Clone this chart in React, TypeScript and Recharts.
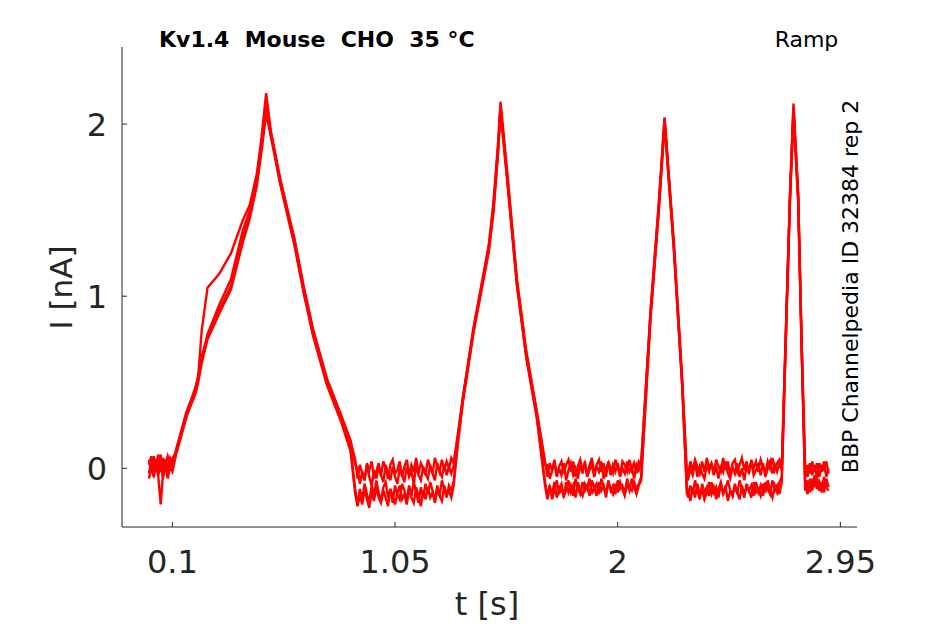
import { LineChart, Line, XAxis, YAxis } from 'recharts';

// time base shared by every repetition (s)
const time = [
  0, 0.01, 0.02, 0.03, 0.04, 0.05, 0.06, 0.07, 0.08, 0.09, 0.1,
  0.12, 0.16, 0.2, 0.21, 0.225, 0.25, 0.3, 0.35, 0.4, 0.43, 0.46, 0.48, 0.5,
  0.52, 0.56, 0.62, 0.66, 0.7, 0.76, 0.82, 0.86, 0.88,
  0.89, 0.9, 0.91, 0.92, 0.93, 0.94, 0.95, 0.96, 0.97, 0.98,
  0.99, 1, 1.01, 1.02, 1.03, 1.04, 1.05, 1.06, 1.07, 1.08,
  1.09, 1.1, 1.11, 1.12, 1.13, 1.14, 1.15, 1.16, 1.17, 1.18,
  1.19, 1.2, 1.21, 1.22, 1.23, 1.24, 1.25, 1.26, 1.27, 1.28,
  1.29, 1.3,
  1.32, 1.34, 1.385, 1.45, 1.47, 1.49, 1.5,
  1.53, 1.57, 1.61, 1.655, 1.69,
  1.7, 1.71, 1.72, 1.73, 1.74, 1.75, 1.76, 1.77, 1.78, 1.79,
  1.8, 1.81, 1.82, 1.83, 1.84, 1.85, 1.86, 1.87, 1.88, 1.89,
  1.9, 1.91, 1.92, 1.93, 1.94, 1.95, 1.96, 1.97, 1.98, 1.99,
  2, 2.01, 2.02, 2.03, 2.04, 2.05, 2.06, 2.07, 2.08, 2.09,
  2.1,
  2.14, 2.175, 2.2, 2.24, 2.275, 2.295,
  2.3, 2.31, 2.32, 2.33, 2.34, 2.35, 2.36, 2.37, 2.38, 2.39,
  2.4, 2.41, 2.42, 2.43, 2.44, 2.45, 2.46, 2.47, 2.48, 2.49,
  2.5, 2.51, 2.52, 2.53, 2.54, 2.55, 2.56, 2.57, 2.58, 2.59,
  2.6, 2.61, 2.62, 2.63, 2.64, 2.65, 2.66, 2.67, 2.68, 2.69,
  2.7,
  2.72, 2.735, 2.75, 2.77, 2.785,
  2.8, 2.81, 2.82, 2.83, 2.84, 2.85, 2.86, 2.87, 2.88, 2.89, 2.9,
];

// current (nA) of each repetition
const rep1 = [
  0.05, -0.01, 0.07, 0.02, 0.08, -0.02, 0.06, 0.01, 0.07, 0.03, 0.06,
  0.1, 0.3, 0.48, 0.53, 0.8, 1.05, 1.13, 1.25, 1.44, 1.53, 1.71, 1.92, 2.18,
  1.96, 1.68, 1.33, 1.05, 0.8, 0.5, 0.3, 0.16, 0.05,
  -0.06, 0.02, -0.03, -0.07, 0.03, -0.01, 0.04, -0.05, -0.02, 0.03,
  -0.04, 0.04, 0, -0.06, 0.02, 0.05, -0.03, -0.01, 0.04, -0.05,
  0.01, 0.05, -0.04, 0.02, -0.02, 0.06, -0.03, 0.03, 0, -0.04,
  0.05, 0.01, -0.03, 0.06, 0.02, -0.02, 0.05, -0.01, 0.04, 0,
  0.06, 0.03,
  0.22, 0.42, 0.82, 1.3, 1.55, 1.9, 2.13,
  1.7, 1.1, 0.68, 0.33, 0.04,
  -0.05, 0.03, -0.01, 0.05, -0.04, 0.01, 0.04, -0.03, 0.02, 0.05,
  -0.02, 0.04, -0.05, 0.01, 0.05, -0.01, 0.03, -0.04, 0.02, 0.06,
  -0.03, 0.02, 0.05, -0.02, 0.03, -0.05, 0.04, 0, -0.03, 0.05,
  0.01, -0.04, 0.04, 0.02, -0.02, 0.05, -0.01, 0.03, -0.03, 0.04,
  0.02,
  0.92, 1.54, 2.04, 1.3, 0.52, -0.02,
  -0.04, 0.04, -0.01, 0.05, 0.01, -0.03, 0.04, -0.02, 0.06, 0,
  0.03, -0.03, 0.05, 0.01, -0.02, 0.06, -0.01, 0.04, -0.04, 0.03,
  0.05, -0.02, 0.02, 0.06, -0.01, 0.04, -0.03, 0.05, 0, 0.04,
  -0.02, 0.05, 0.01, -0.03, 0.04, 0, 0.06, -0.01, 0.03, 0.05,
  0.01,
  0.92, 1.6, 2.12, 1.6, 0.72,
  -0.05, 0.02, -0.03, 0.04, -0.02, 0.03, -0.05, 0.01, -0.01, 0.04, -0.03,
];

const rep2 = [
  -0.03, 0.04, -0.05, 0.02, -0.04, 0.03, -0.06, 0.01, -0.03, 0.04, 0,
  0.12, 0.31, 0.46, 0.52, 0.63, 0.78, 0.95, 1.1, 1.38, 1.5, 1.68, 1.88, 2.12,
  1.94, 1.66, 1.31, 1.03, 0.78, 0.49, 0.28, 0.12, -0.12,
  -0.21, -0.12, -0.18, -0.09, -0.15, -0.2, -0.1, -0.16, -0.07, -0.14,
  -0.19, -0.11, -0.08, -0.17, -0.12, -0.2, -0.1, -0.15, -0.18, -0.09,
  -0.13, -0.19, -0.1, -0.16, -0.08, -0.14, -0.2, -0.11, -0.17, -0.09,
  -0.15, -0.08, -0.13, -0.19, -0.1, -0.16, -0.07, -0.12, -0.17, -0.1,
  -0.13, -0.08,
  0.18, 0.4, 0.8, 1.27, 1.5, 1.86, 2.1,
  1.66, 1.07, 0.65, 0.3, -0.08,
  -0.16, -0.1, -0.18, -0.13, -0.07, -0.15, -0.11, -0.17, -0.08, -0.14,
  -0.1, -0.16, -0.06, -0.12, -0.15, -0.08, -0.13, -0.1, -0.16, -0.07,
  -0.12, -0.09, -0.15, -0.06, -0.11, -0.14, -0.08, -0.13, -0.1, -0.15,
  -0.07, -0.12, -0.1, -0.15, -0.06, -0.11, -0.13, -0.08, -0.12, -0.09,
  -0.05,
  0.88, 1.5, 2.01, 1.27, 0.49, -0.12,
  -0.17, -0.1, -0.15, -0.07, -0.13, -0.18, -0.09, -0.14, -0.11, -0.16,
  -0.08, -0.14, -0.11, -0.17, -0.09, -0.15, -0.12, -0.07, -0.13, -0.16,
  -0.1, -0.15, -0.07, -0.12, -0.17, -0.09, -0.13, -0.1, -0.16, -0.08,
  -0.14, -0.1, -0.16, -0.08, -0.12, -0.15, -0.07, -0.13, -0.1, -0.15,
  -0.08,
  0.88, 1.56, 2.08, 1.56, 0.69,
  -0.13, -0.07, -0.14, -0.06, -0.11, -0.05, -0.13, -0.08, -0.14, -0.06, -0.11,
];

const rep3 = [
  0.02, 0.07, -0.01, 0.05, 0, 0.08, -0.02, 0.04, 0.01, 0.06, 0.03,
  0.13, 0.33, 0.47, 0.54, 0.65, 0.77, 0.92, 1.06, 1.34, 1.47, 1.66, 1.86, 2.09,
  1.95, 1.68, 1.34, 1.06, 0.81, 0.52, 0.31, 0.16, 0.02,
  0, -0.09, -0.02, -0.07, 0.02, -0.05, -0.1, -0.01, -0.06, 0.01,
  -0.04, -0.08, 0.02, -0.03, -0.07, 0.01, -0.05, -0.09, 0, -0.04,
  -0.08, 0.01, -0.05, -0.02, -0.09, 0.02, -0.04, -0.07, 0.01, -0.03,
  -0.06, 0.02, -0.03, -0.07, 0.03, -0.02, -0.05, 0.02, -0.04, 0.01,
  -0.03, 0.01,
  0.2, 0.41, 0.81, 1.28, 1.52, 1.87, 2.1,
  1.68, 1.09, 0.67, 0.32, 0.02,
  0.02, -0.06, -0.01, 0.03, -0.05, 0, -0.04, 0.03, -0.07, -0.01,
  0.03, -0.04, 0, -0.06, 0.02, -0.03, 0.04, -0.05, -0.01, 0.02,
  -0.05, 0.01, -0.02, 0.04, -0.06, 0, 0.03, -0.04, 0.02, -0.02,
  0.03, -0.05, 0, -0.03, 0.04, -0.02, 0.01, -0.06, 0.02, -0.01,
  0.03,
  0.9, 1.52, 2.03, 1.29, 0.51, -0.04,
  -0.07, 0, -0.04, 0.03, -0.05, 0.01, -0.03, -0.06, 0.02, -0.02,
  0.03, -0.04, 0.01, -0.06, 0.02, -0.02, 0.04, -0.03, -0.06, 0.01,
  -0.03, 0.03, -0.05, 0, -0.07, 0.02, -0.02, 0.04, -0.04, -0.01,
  0.02, -0.04, 0.03, -0.05, 0, 0.04, -0.03, 0.02, -0.02, 0.03,
  -0.01,
  0.9, 1.58, 2.1, 1.58, 0.71,
  0.01, -0.05, 0.03, -0.04, 0.02, -0.06, 0.03, -0.02, 0.04, -0.05, 0,
];

const rep4 = [
  -0.06, 0, -0.04, 0.03, -0.05, -0.21, -0.03, 0.02, -0.06, 0.01, -0.02,
  0.11, 0.3, 0.44, 0.5, 0.61, 0.75, 0.9, 1.04, 1.31, 1.45, 1.64, 1.84, 2.06,
  1.93, 1.65, 1.3, 1.02, 0.77, 0.48, 0.27, 0.1, -0.15,
  -0.22, -0.16, -0.21, -0.12, -0.18, -0.23, -0.14, -0.19, -0.11, -0.17,
  -0.2, -0.13, -0.17, -0.22, -0.12, -0.16, -0.21, -0.14, -0.1, -0.18,
  -0.15, -0.21, -0.12, -0.17, -0.2, -0.11, -0.16, -0.22, -0.13, -0.18,
  -0.11, -0.17, -0.14, -0.2, -0.12, -0.16, -0.19, -0.1, -0.15, -0.13,
  -0.17, -0.1,
  0.17, 0.39, 0.79, 1.26, 1.49, 1.84, 2.07,
  1.65, 1.06, 0.64, 0.29, -0.1,
  -0.18, -0.11, -0.15, -0.08, -0.17, -0.12, -0.09, -0.16, -0.13, -0.07,
  -0.14, -0.1, -0.17, -0.08, -0.13, -0.16, -0.09, -0.12, -0.06, -0.15,
  -0.11, -0.16, -0.08, -0.13, -0.1, -0.17, -0.07, -0.12, -0.15, -0.09,
  -0.14, -0.08, -0.12, -0.16, -0.09, -0.13, -0.06, -0.11, -0.15, -0.1,
  -0.07,
  0.87, 1.49, 2, 1.26, 0.48, -0.14,
  -0.13, -0.19, -0.11, -0.17, -0.09, -0.16, -0.12, -0.18, -0.14, -0.08,
  -0.15, -0.11, -0.18, -0.12, -0.08, -0.15, -0.1, -0.19, -0.13, -0.16,
  -0.09, -0.14, -0.18, -0.1, -0.15, -0.11, -0.13, -0.17, -0.08, -0.14,
  -0.12, -0.16, -0.09, -0.14, -0.07, -0.13, -0.17, -0.1, -0.14, -0.08,
  -0.05,
  0.87, 1.55, 2.06, 1.55, 0.68,
  -0.09, -0.15, -0.06, -0.13, -0.04, -0.12, -0.08, -0.14, -0.05, -0.11, -0.13,
];

const reps = [rep1, rep2, rep3, rep4];
const xTicks = [0.1, 1.05, 2, 2.95];
const yTicks = [0, 1, 2];

const FONT = '"DejaVu Sans", sans-serif';
const AXIS = '#262626';
const W = 937;
const H = 616;

const data = time.map((t, i) => {
  const row: Record<string, number> = { t };
  reps.forEach((r, k) => {
    row['r' + k] = r[i];
  });
  return row;
});

const XTick = ({ x, y, payload }: any) => (
  <g>
    <line x1={x} y1={y} x2={x} y2={y - 5} stroke={AXIS} strokeWidth={1} />
    <text x={x} y={y + 46} textAnchor='middle' fontSize={32} fontFamily={FONT} fill={AXIS}>
      {payload.value}
    </text>
  </g>
);

const YTick = ({ x, y, payload }: any) => (
  <g>
    <line x1={x} y1={y} x2={x + 5} y2={y} stroke={AXIS} strokeWidth={1} />
    <text x={x - 15} y={y + 11.5} textAnchor='end' fontSize={32} fontFamily={FONT} fill={AXIS}>
      {payload.value}
    </text>
  </g>
);

export default function App() {
  return (
    <div style={{ position: 'relative', width: W, height: H }}>
      <LineChart
        width={W}
        height={H}
        data={data}
        margin={{ top: 39, right: 88, bottom: 37, left: 0 }}
      >
        <XAxis
          dataKey='t'
          type='number'
          domain={[-0.115, 3.021]}
          ticks={xTicks}
          interval={0}
          height={60}
          tickLine={false}
          tickSize={0}
          tickMargin={0}
          tick={<XTick />}
          axisLine={{ stroke: AXIS, strokeWidth: 1 }}
        />
        <YAxis
          type='number'
          domain={[-0.341, 2.448]}
          ticks={yTicks}
          interval={0}
          width={114}
          tickLine={false}
          tickSize={0}
          tickMargin={0}
          tick={<YTick />}
          axisLine={{ stroke: AXIS, strokeWidth: 1 }}
        />
        {reps.map((_, k) => (
          <Line
            key={k}
            dataKey={'r' + k}
            type='linear'
            stroke='#ff0000'
            strokeWidth={2.4}
            dot={false}
            isAnimationActive={false}
          />
        ))}
      </LineChart>
      <svg
        width={W}
        height={H}
        style={{ position: 'absolute', left: 0, top: 0, pointerEvents: 'none' }}
      >
        <text x={151} y={39} fontSize={22} fontWeight='bold' fontFamily={FONT} fill='#000'>
          Kv1.4{'\u00a0\u00a0'}Mouse{'\u00a0\u00a0'}CHO{'\u00a0\u00a0'}35 °C
        </text>
        <text x={798.5} y={38.5} textAnchor='middle' fontSize={22} fontFamily={FONT} fill='#000'>
          Ramp
        </text>
        <text
          transform='translate(850, 278.5) rotate(-90)'
          textAnchor='middle'
          fontSize={22}
          fontFamily={FONT}
          fill='#000'
        >
          BBP Channelpedia ID 32384 rep 2
        </text>
        <text x={479} y={607} textAnchor='middle' fontSize={32} fontFamily={FONT} fill={AXIS}>
          t [s]
        </text>
        <text
          transform='translate(63.7, 279.5) rotate(-90)'
          textAnchor='middle'
          fontSize={31}
          fontFamily={FONT}
          fill={AXIS}
        >
          I [nA]
        </text>
      </svg>
    </div>
  );
}
